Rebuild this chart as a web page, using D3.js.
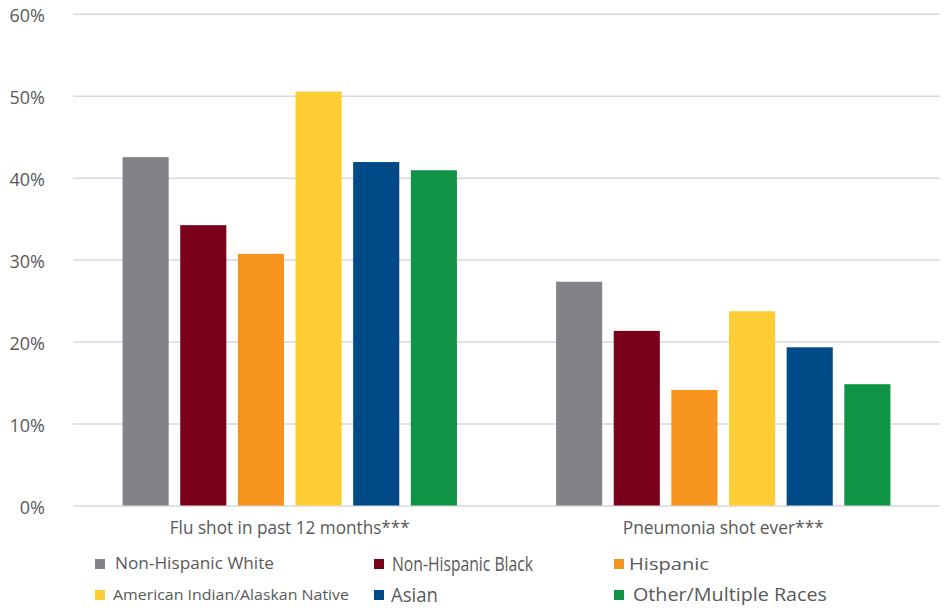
<!DOCTYPE html>
<html><head><meta charset="utf-8">
<script src="https://cdn.jsdelivr.net/npm/d3@7"></script>
<style>body{margin:0;background:#fff;}svg{display:block;}</style>
</head><body>
<svg id="chart" width="945" height="608"></svg>
<script>
const categories = ["Flu shot in past 12 months***", "Pneumonia shot ever***"];
const seriesNames = ["Non-Hispanic White", "Non-Hispanic Black", "Hispanic", "American Indian/Alaskan Native", "Asian", "Other/Multiple Races"];
const fluValues = [42.5, 34.2, 30.7, 50.5, 41.9, 40.9];
const pneumoniaValues = [27.3, 21.3, 14.1, 23.7, 19.3, 14.8];
const seriesColors = ["#838387", "#7B001C", "#F7941E", "#FECC33", "#004B87", "#0F9345"];
const yTicks = [0, 10, 20, 30, 40, 50, 60];

const valuesByCategory = [fluValues, pneumoniaValues];
const svg = d3.select("#chart");
const plotLeft = 73, plotRight = 940, plotTop = 13.7, plotBottom = 505.5;

const y = d3.scaleLinear().domain([0, 60]).range([plotBottom, plotTop]);
const x0 = d3.scaleBand().domain(categories).range([plotLeft, plotRight]).padding(0);
const x1 = d3.scaleBand().domain(seriesNames).range([0, x0.bandwidth()]).paddingInner(0.2).paddingOuter(0.86);

// gridlines
const yAxis = d3.axisLeft(y).tickValues(yTicks).tickSize(-(plotRight - plotLeft)).tickFormat(d => d + "%");
const gAxis = svg.append("g").attr("transform", `translate(${plotLeft},0)`).call(yAxis);
gAxis.select(".domain").remove();
gAxis.selectAll(".tick line").attr("stroke", "#d9d9d9").attr("stroke-width", 1.5);
gAxis.selectAll(".tick text")
  .attr("x", -28)
  .attr("dy", "0.42em")
  .attr("fill", "#595959")
  .style("font-family", "'Open Sans', sans-serif")
  .style("font-size", "18px");

// bars
const groups = svg.append("g").selectAll("g").data(categories).join("g")
  .attr("transform", d => `translate(${x0(d)},0)`);
groups.selectAll("rect")
  .data((c, i) => seriesNames.map((s, j) => ({s, v: valuesByCategory[i][j], color: seriesColors[j]})))
  .join("rect")
  .attr("x", d => x1(d.s))
  .attr("width", x1.bandwidth())
  .attr("y", d => y(d.v))
  .attr("height", d => y(0) - y(d.v))
  .attr("fill", d => d.color);

// category labels
const catWidths = [240, 201];
svg.append("g").selectAll("text").data(categories).join("text")
  .attr("x", d => x0(d) + x0.bandwidth() / 2)
  .attr("y", 534)
  .attr("text-anchor", "middle")
  .attr("textLength", (d, i) => catWidths[i])
  .attr("lengthAdjust", "spacingAndGlyphs")
  .attr("fill", "#595959")
  .style("font-family", "'Open Sans', sans-serif")
  .style("font-size", "18px")
  .text(d => d);

// legend
const legX = [95, 374, 614];
const legRowY = [564, 595];
const legTextX = [115, 392, 629, 113, 391, 633];
const legTextW = [159, 141, 80, 236, 47, 194];
const legFont = [15.5, 19.5, 17, 15, 19.5, 17.5];
const leg = svg.append("g").selectAll("g").data(seriesNames).join("g");
leg.append("rect")
  .attr("x", (d, i) => legX[i % 3])
  .attr("y", (d, i) => legRowY[Math.floor(i / 3)] - 5)
  .attr("width", 10).attr("height", 10)
  .attr("fill", (d, i) => seriesColors[i]);
leg.append("text")
  .attr("x", (d, i) => legTextX[i])
  .attr("y", (d, i) => legRowY[Math.floor(i / 3)])
  .attr("dy", "0.35em")
  .attr("textLength", (d, i) => legTextW[i])
  .attr("lengthAdjust", "spacingAndGlyphs")
  .attr("fill", "#595959")
  .style("font-family", "'Open Sans', sans-serif")
  .style("font-size", (d, i) => legFont[i] + "px")
  .text(d => d);
</script>
</body></html>
